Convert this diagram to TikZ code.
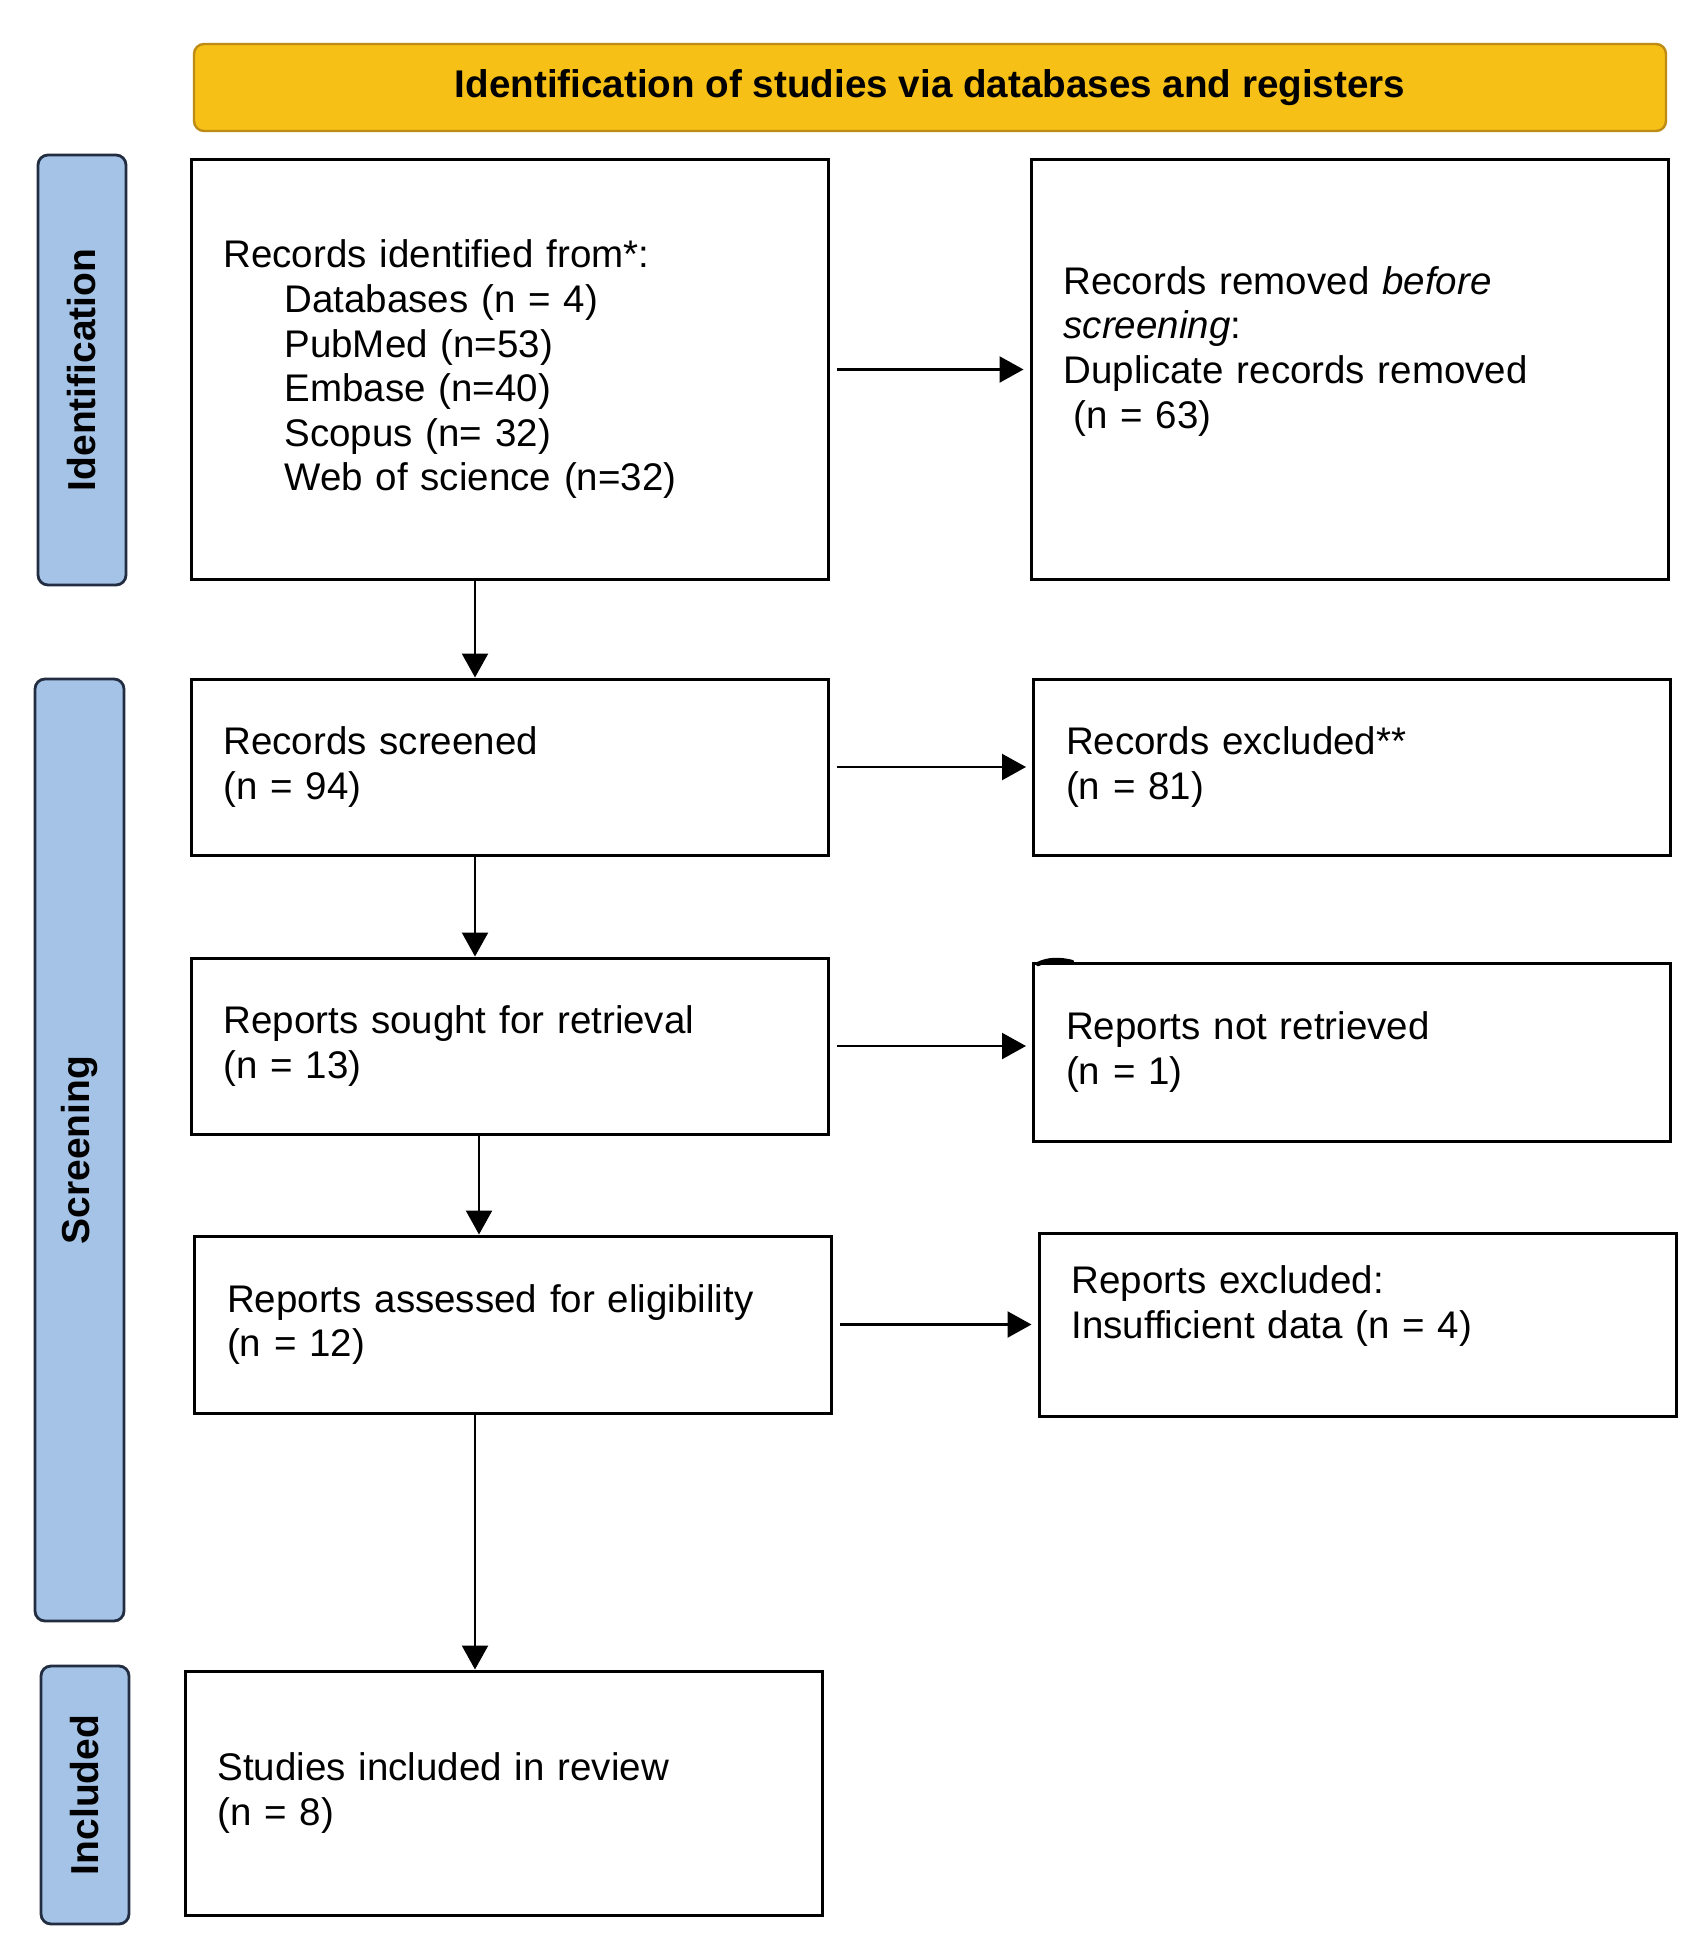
\documentclass[tikz,border=0pt]{standalone}
\usepackage{fontspec}
\setmainfont{Liberation Sans}
\usetikzlibrary{arrows.meta}
\definecolor{hdrfill}{RGB}{246,192,22}
\definecolor{hdrdraw}{RGB}{190,140,20}
\definecolor{labfill}{RGB}{164,195,230}
\definecolor{labdraw}{RGB}{35,45,65}
\tikzset{
  boxnode/.style={draw=black, line width=1.5pt, fill=white, inner xsep=16pt, inner ysep=0pt,
    align=left, text width=286pt, minimum width=318.5pt,
    font=\fontsize{19.25}{22.3}\selectfont},
  sidelab/.style={draw=labdraw, line width=1.4pt, fill=labfill, rounded corners=5pt,
    font=\fontsize{19.5}{22}\selectfont\bfseries, text=black, inner sep=0pt},
  hdr/.style={draw=hdrdraw, line width=1.2pt, fill=hdrfill, rounded corners=5pt,
    font=\fontsize{19.3}{22}\selectfont\bfseries, minimum width=736pt, minimum height=43.5pt},
  arr/.style={draw=black, line width=1.15pt, -{Triangle[length=12pt,width=13pt]}}
}
\begin{document}
\begin{tikzpicture}[x=0.5pt,y=-0.5pt]
\useasboundingbox[fill=white] (0,0) rectangle (1701,1958);

\node[hdr] (hdr) at (930,87.5) {Identification of studies via databases and registers};

\node[sidelab, minimum width=44pt, minimum height=215pt] (idlab) at (82,370) {\rotatebox{90}{Identification}};
\node[sidelab, minimum width=44.5pt, minimum height=471pt] (scrlab) at (79.5,1150) {\rotatebox{90}{Screening}};
\node[sidelab, minimum width=44pt, minimum height=129pt] (inclab) at (85,1795) {\rotatebox{90}{Included}};

\node[boxnode, minimum height=209.5pt] (b1) at (509.5,369.5) {Records identified from*:\\
\hspace*{30.5pt}Databases (n = 4)\\
\hspace*{30.5pt}PubMed (n=53)\\
\hspace*{30.5pt}Embase (n=40)\\
\hspace*{30.5pt}Scopus (n= 32)\\
\hspace*{30.5pt}Web of science (n=32)};

\node[boxnode, minimum height=209.5pt] (b2) at (1349.5,369.5) {Records removed \textit{before}\\
\textit{screening}:\\
Duplicate records removed\\
\hspace*{5pt}(n = 63)\\ \mbox{}};

\node[boxnode, minimum height=88pt] (b3) at (509.5,767) {Records screened\\ (n = 94)};
\node[boxnode, minimum height=88pt] (b4) at (1352,767) {Records excluded**\\ (n = 81)};
\node[boxnode, minimum height=88pt] (b5) at (509.5,1046) {Reports sought for retrieval\\ (n = 13)};
\node[boxnode, minimum height=89pt] (b6) at (1352,1052) {Reports not retrieved\\ (n = 1)};
\node[boxnode, minimum height=88.5pt] (b7) at (513,1324.5) {Reports assessed for eligibility\\ (n = 12)};
\node[boxnode, minimum height=91.5pt] (b8) at (1357.5,1324.5) {Reports excluded:\\ Insufficient data (n = 4)\\ \mbox{}};
\node[boxnode, minimum height=122pt] (b9) at (503.5,1793) {Studies included in review\\ (n = 8)};

% small stray mark on the top-left corner of "Reports not retrieved"
\draw[line width=2.2pt, line cap=round] (1038,964) .. controls (1048,959) and (1060,959) .. (1072,962);

\coordinate (vxa) at (475,0);
\coordinate (vxb) at (479,0);

\draw[arr] (vxa |- b1.south) -- (vxa |- b3.north);
\draw[arr] (vxa |- b3.south) -- (vxa |- b5.north);
\draw[arr] (vxb |- b5.south) -- (vxb |- b7.north);
\draw[arr] (vxa |- b7.south) -- (vxa |- b9.north);

\draw[arr] ([xshift=3.5pt]b1.east) -- ([xshift=-3pt]b1.east -| b2.west);
\draw[arr] ([xshift=3.5pt]b3.east) -- ([xshift=-3pt]b3.east -| b4.west);
\draw[arr] ([xshift=3.5pt]b5.east) -- ([xshift=-3pt]b5.east -| b6.west);
\draw[arr] ([xshift=3.5pt]b7.east) -- ([xshift=-3pt]b7.east -| b8.west);
\end{tikzpicture}
\end{document}
